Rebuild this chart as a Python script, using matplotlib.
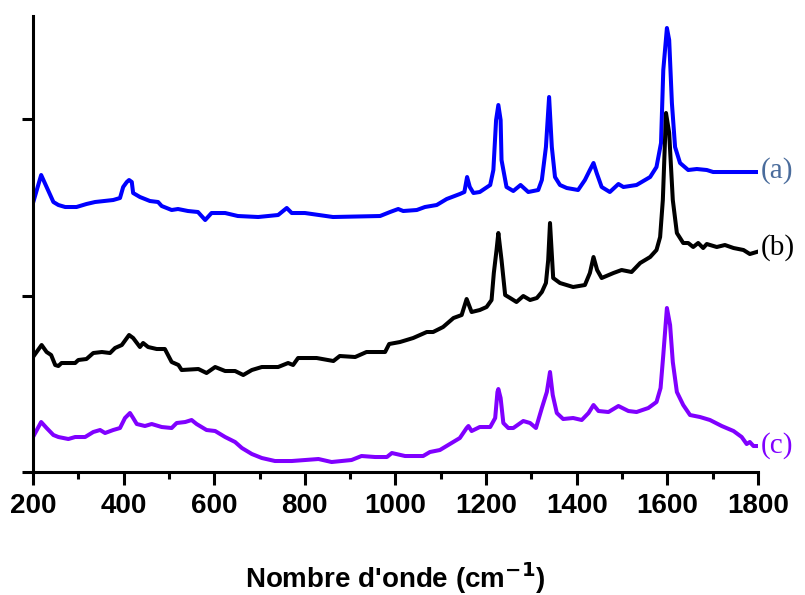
import numpy as np
import matplotlib
matplotlib.use('Agg')
import matplotlib.pyplot as plt

# Raman spectra, intensity in arbitrary units (offset curves)
wave_a = [200, 218, 230, 245, 256, 271, 296, 318, 337, 377, 392, 399, 407, 412, 418, 421,
          436, 458, 476, 484, 506, 520, 542, 564, 580, 594, 624, 652, 697, 741, 760, 771,
          800, 862, 966, 988, 1006, 1017, 1047, 1065, 1091, 1113, 1142, 1152, 1158, 1164,
          1172, 1186, 1209, 1216, 1222, 1227, 1232, 1234, 1245, 1260, 1276, 1293, 1315,
          1323, 1332, 1339, 1345, 1352, 1363, 1378, 1403, 1418, 1429, 1437, 1444, 1455,
          1473, 1492, 1503, 1532, 1562, 1576, 1586, 1591, 1599, 1604, 1610, 1617, 1628,
          1646, 1665, 1687, 1701, 1800]
int_a = [269, 297, 285, 270, 267, 265, 265, 268, 270, 272, 274, 285, 290, 292, 290, 279,
         275, 271, 270, 266, 262, 263, 261, 260, 252, 259, 259, 256, 255, 257, 264, 259,
         259, 255, 256, 260, 263, 261, 262, 265, 267, 273, 278, 280, 295, 285,
         279, 280, 287, 302, 352, 367, 352, 312, 285, 281, 287, 280, 282,
         292, 325, 375, 325, 295, 287, 284, 282, 292, 302, 309, 299, 285,
         280, 288, 285, 287, 295, 305, 329, 402, 444, 432, 369, 325, 309,
         302, 303, 302, 300, 300]

wave_b = [200, 219, 230, 240, 249, 256, 263, 293, 300, 318, 333, 352, 370, 381, 396, 412,
          421, 436, 443, 454, 473, 491, 506, 521, 528, 565, 583, 602, 624, 646, 664, 683,
          705, 741, 763, 774, 785, 826, 863, 877, 911, 936, 977, 986, 1010, 1039, 1069,
          1083, 1105, 1128, 1146, 1157, 1168, 1186, 1201, 1212, 1217, 1223, 1227, 1234,
          1242, 1253, 1267, 1282, 1297, 1312, 1323, 1332, 1337, 1341, 1348, 1363, 1392,
          1418, 1429, 1437, 1445, 1455, 1481, 1499, 1521, 1540, 1562, 1576, 1584, 1590,
          1597, 1604, 1612, 1621, 1635, 1646, 1657, 1668, 1679, 1687, 1709, 1727, 1746,
          1768, 1782, 1797]
int_b = [115, 127, 120, 117, 107, 106, 109, 109, 112, 113, 119, 120, 119, 124, 127, 137,
         134, 125, 129, 125, 123, 123, 110, 107, 102, 103, 99, 105, 101, 101, 97, 102,
         105, 105, 109, 107, 114, 114, 111, 116, 115, 120, 120, 128, 130, 134, 140,
         140, 145, 154, 157, 173, 160, 162, 165, 172, 199, 222, 239, 212,
         177, 174, 170, 176, 172, 174, 180, 189, 212, 249, 194, 189, 185,
         187, 199, 215, 202, 194, 199, 202, 200, 209, 215, 222, 235, 272,
         359, 339, 272, 239, 229, 229, 225, 229, 224, 228, 225, 227, 224,
         222, 218, 220]

wave_c = [200, 218, 230, 245, 256, 278, 293, 315, 333, 348, 359, 377, 392, 403, 414, 421,
          429, 447, 462, 484, 506, 517, 536, 550, 561, 583, 602, 624, 646, 661, 683, 705,
          734, 771, 830, 859, 903, 925, 955, 981, 992, 1021, 1061, 1076, 1098, 1120, 1142,
          1157, 1161, 1168, 1186, 1209, 1220, 1225, 1227, 1232, 1238, 1249, 1260, 1282,
          1297, 1310, 1323, 1334, 1341, 1347, 1356, 1370, 1392, 1411, 1426, 1437, 1448,
          1470, 1492, 1514, 1532, 1558, 1576, 1585, 1591, 1599, 1606, 1612, 1621, 1635,
          1650, 1672, 1694, 1720, 1746, 1764, 1775, 1782, 1790, 1800]
int_c = [35, 50, 44, 37, 35, 33, 35, 35, 40, 42, 39, 42, 44, 54, 59, 54,
         48, 46, 48, 45, 44, 49, 50, 52, 48, 42, 41, 35, 30, 24, 18, 14,
         11, 11, 13, 10, 12, 16, 15, 15, 19, 16, 16, 20, 22, 28, 34,
         44, 46, 41, 45, 45, 54, 80, 83, 74, 49, 44, 44, 51,
         49, 44, 64, 80, 100, 77, 59, 53, 54, 52, 59, 67, 61,
         60, 66, 61, 60, 64, 70, 84, 117, 164, 147, 110, 80, 67,
         57, 55, 52, 46, 41, 35, 28, 30, 26, 26]

labels = ['(a)', '(b)', '(c)']
label_y = [301, 224, 26]
colors = ['#0000ff', '#000000', '#8000ff']
label_colors = ['#4a6c9c', '#000000', '#8000ff']

fig = plt.figure(figsize=(8.05, 5.95), dpi=100)
ax = fig.add_axes([0.041, 0.2067, 0.9006, 0.7664])

for w, y, c in zip([wave_a, wave_b, wave_c], [int_a, int_b, int_c], colors):
    ax.plot(w, y, color=c, lw=2.9, solid_joinstyle='round')

for lab, ly, lc in zip(labels, label_y, label_colors):
    ax.text(1806, ly, lab, color=lc, fontsize=21, family='Liberation Serif',
            ha='left', va='center', clip_on=False)

ax.set_xlim(200, 1800)
ax.set_ylim(0, 456)
ax.set_xticks(np.arange(200, 1801, 200))
ax.set_xticks(np.arange(300, 1800, 200), minor=True)
ax.set_yticks([0, 176, 353])
ax.set_yticklabels([])
for s in ['top', 'right']:
    ax.spines[s].set_visible(False)
for s in ['left', 'bottom']:
    ax.spines[s].set_linewidth(2.2)
ax.tick_params(axis='x', which='major', length=9, width=2.2, pad=6)
ax.tick_params(axis='x', which='minor', length=5, width=2.2)
ax.tick_params(axis='y', which='major', length=8, width=2.2)
for t in ax.get_xticklabels():
    t.set_fontfamily('Liberation Sans')
    t.set_fontweight('bold')
    t.set_fontsize(20)
ax.set_xlabel("Nombre d'onde (cm$^{\\mathbf{-1}}$)", fontsize=20, fontweight='bold',
              family='Liberation Sans', labelpad=30)

plt.savefig('out.png', dpi=100)
